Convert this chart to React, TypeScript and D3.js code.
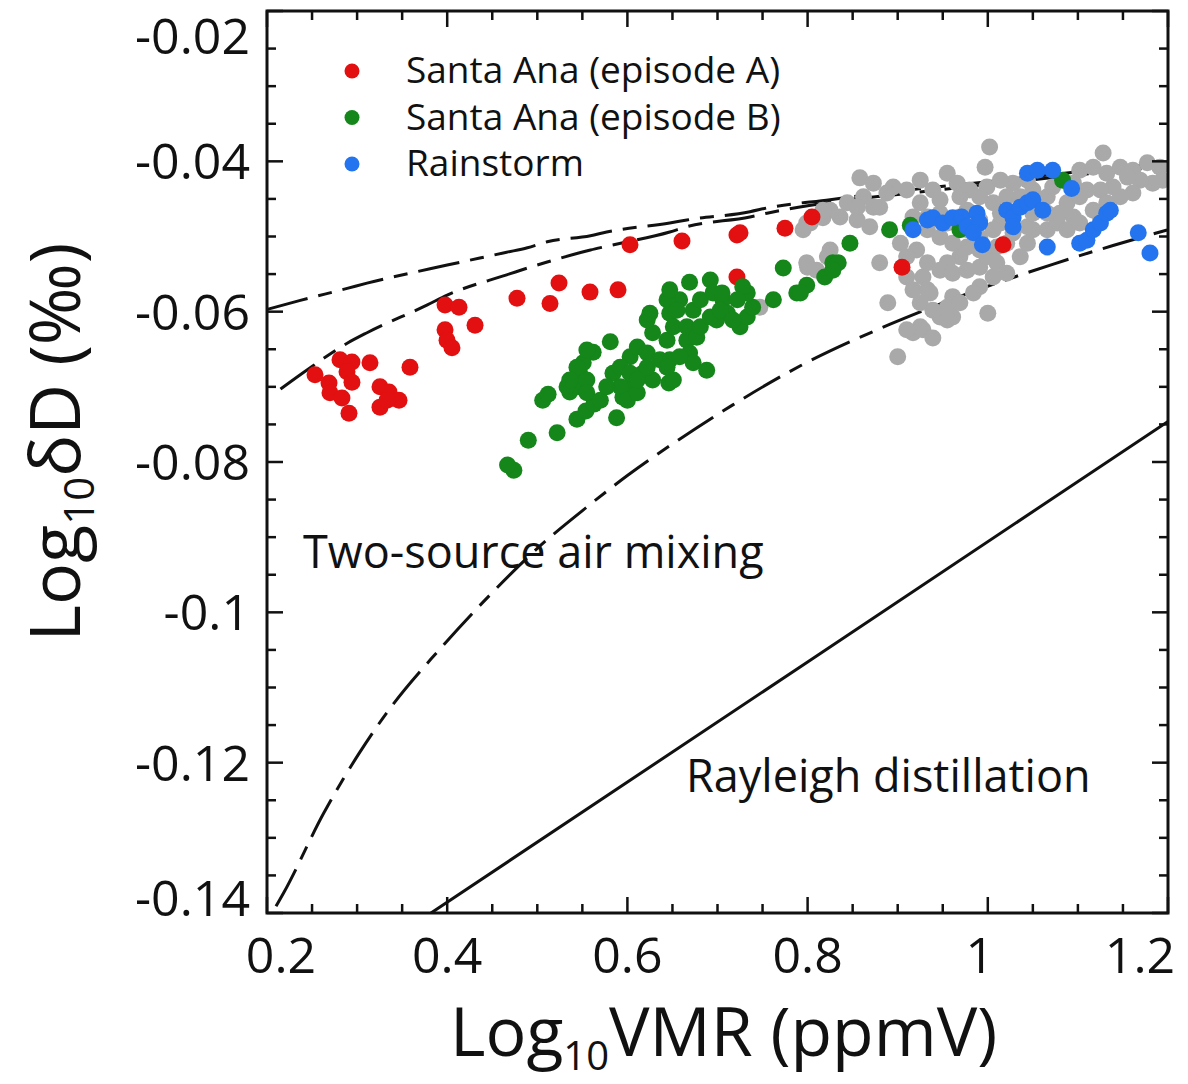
import React from "react";
import * as d3 from "d3";

// ---------- data ----------
const xDomain: [number, number] = [0.2, 1.2];
const yDomain: [number, number] = [-0.14, -0.02];

const xTickLabels = ["0.2", "0.4", "0.6", "0.8", "1", "1.2"];
const xTickValues = [0.2, 0.4, 0.6, 0.8, 1.0, 1.2];
const yTickLabels = ["-0.02", "-0.04", "-0.06", "-0.08", "-0.1", "-0.12", "-0.14"];
const yTickValues = [-0.02, -0.04, -0.06, -0.08, -0.1, -0.12, -0.14];

const legendLabels = ["Santa Ana (episode A)", "Santa Ana (episode B)", "Rainstorm"];

const mixingUpper: [number, number][] = [
  [0.2, -0.0597], [0.237, -0.0585], [0.289, -0.0569], [0.311, -0.0562], [0.381, -0.0543],
  [0.4, -0.0538], [0.466, -0.0521], [0.489, -0.0515], [0.511, -0.0507], [0.559, -0.0499],
  [0.577, -0.0494], [0.647, -0.0482], [0.666, -0.0478], [0.736, -0.0467], [0.755, -0.0462],
  [0.825, -0.0451], [0.891, -0.0441], [1.0, -0.0427], [1.1, -0.0414], [1.2, -0.0402],
];

const mixingMiddle: [number, number][] = [
  [0.215, -0.0703], [0.244, -0.0678], [0.289, -0.0642], [0.311, -0.0628], [0.378, -0.0591],
  [0.4, -0.0578], [0.466, -0.0551], [0.489, -0.0542], [0.511, -0.0534], [0.559, -0.0518],
  [0.577, -0.0513], [0.647, -0.0494], [0.666, -0.0487], [0.736, -0.0474], [0.755, -0.0469],
  [0.822, -0.0455], [0.9, -0.0444], [1.0, -0.0431], [1.1, -0.0418], [1.2, -0.0406],
];

const mixingLower: [number, number][] = [
  [0.21, -0.1391], [0.219, -0.1372], [0.263, -0.1267], [0.302, -0.1188], [0.337, -0.1127],
  [0.391, -0.105], [0.449, -0.0975], [0.5, -0.0915], [0.556, -0.0859], [0.6, -0.0818],
  [0.65, -0.0776], [0.717, -0.0724], [0.792, -0.0672], [0.891, -0.0617], [0.973, -0.0578],
  [1.072, -0.0537], [1.139, -0.0512], [1.2, -0.0491],
];

const rayleighLine: [number, number][] = [
  [0.382, -0.14], [0.8, -0.1066], [1.2, -0.0746],
];

const redPoints: [number, number][] = [
  [0.2533, -0.0684], [0.2688, -0.0695], [0.2699, -0.0708], [0.2832, -0.0715], [0.291, -0.0735],
  [0.281, -0.0664], [0.2943, -0.0667], [0.2888, -0.068], [0.2943, -0.0694], [0.3143, -0.0668],
  [0.3254, -0.07], [0.3354, -0.0707], [0.3465, -0.0718], [0.3254, -0.0727], [0.3332, -0.0718],
  [0.3587, -0.0674], [0.3976, -0.0591], [0.4131, -0.0594], [0.3976, -0.0624], [0.3998, -0.0638],
  [0.4053, -0.0648], [0.4309, -0.0618], [0.4775, -0.0582], [0.5141, -0.0589], [0.5241, -0.0562],
  [0.5585, -0.0574], [0.5896, -0.0571], [0.6029, -0.0511], [0.6606, -0.0506], [0.7216, -0.0498],
  [0.725, -0.0495], [0.7216, -0.0554], [0.7749, -0.0489], [0.8049, -0.0474], [0.9048, -0.0541],
  [1.0169, -0.0511],
];

const greenPoints: [number, number][] = [
  [0.474, -0.0811], [0.467, -0.0804], [0.49, -0.0771], [0.522, -0.0761], [0.544, -0.0743],
  [0.554, -0.0732], [0.588, -0.0741], [0.563, -0.0723], [0.506, -0.0718], [0.512, -0.071],
  [0.547, -0.07], [0.595, -0.0714], [0.602, -0.07], [0.646, -0.0695], [0.536, -0.0707],
  [0.547, -0.0682], [0.555, -0.0691], [0.562, -0.0654], [0.581, -0.064], [0.551, -0.0668],
  [0.584, -0.0682], [0.592, -0.07], [0.6, -0.0718], [0.603, -0.066], [0.611, -0.0647],
  [0.622, -0.0655], [0.617, -0.0682], [0.628, -0.0691], [0.651, -0.0691], [0.647, -0.0664],
  [0.644, -0.0638], [0.628, -0.0628], [0.622, -0.0611], [0.625, -0.0602], [0.647, -0.0602],
  [0.658, -0.0584], [0.644, -0.0584], [0.651, -0.062], [0.666, -0.0638], [0.669, -0.0655],
  [0.673, -0.0668], [0.688, -0.0678], [0.666, -0.062], [0.673, -0.0598], [0.681, -0.0584],
  [0.647, -0.0571], [0.669, -0.0561], [0.692, -0.0558], [0.695, -0.0575], [0.706, -0.0584],
  [0.711, -0.0602], [0.699, -0.0611], [0.725, -0.062], [0.733, -0.0607], [0.739, -0.0594],
  [0.733, -0.0575], [0.728, -0.0567], [0.722, -0.0584], [0.762, -0.0584], [0.773, -0.0542],
  [0.788, -0.0575], [0.533, -0.07], [0.555, -0.0708], [0.57, -0.0718], [0.577, -0.07],
  [0.611, -0.0708], [0.622, -0.0674], [0.636, -0.0664], [0.644, -0.0674], [0.658, -0.066],
  [0.677, -0.0634], [0.681, -0.062], [0.692, -0.0607], [0.703, -0.0598], [0.717, -0.0611],
  [0.705, -0.0575], [0.799, -0.0565], [0.819, -0.0554], [0.828, -0.0535], [0.655, -0.0598],
  [0.847, -0.0509], [0.834, -0.0535], [0.828, -0.0545], [0.792, -0.0575], [0.891, -0.0491],
  [0.914, -0.0485], [1.083, -0.0425], [0.969, -0.0491], [0.555, -0.0651], [0.544, -0.0674],
  [0.536, -0.0691], [0.592, -0.0674], [0.603, -0.0682], [0.611, -0.0691],
];

const grayPoints: [number, number][] = [
  [1.002, -0.0381], [0.997, -0.0408], [1.128, -0.0389], [0.858, -0.0422], [0.873, -0.0429],
  [0.844, -0.0455], [0.862, -0.0447], [0.873, -0.0461], [0.869, -0.0487], [0.855, -0.0478],
  [0.836, -0.0474], [0.825, -0.0465], [0.817, -0.0475], [0.803, -0.0482], [0.795, -0.0491],
  [0.825, -0.0518], [0.8, -0.0541], [0.88, -0.0535], [0.889, -0.0588], [0.9, -0.066],
  [0.917, -0.0628], [0.928, -0.0624], [0.939, -0.0635], [0.925, -0.0588], [0.936, -0.0575],
  [0.928, -0.0554], [0.933, -0.0535], [0.921, -0.0518], [0.903, -0.0509], [0.895, -0.0434],
  [0.91, -0.0438], [0.925, -0.0425], [0.939, -0.0438], [0.955, -0.0416], [0.966, -0.0429],
  [0.98, -0.0438], [0.999, -0.0434], [1.014, -0.0425], [1.028, -0.0429], [1.021, -0.0447],
  [1.006, -0.0455], [0.991, -0.0447], [0.969, -0.0447], [0.947, -0.0451], [0.925, -0.0455],
  [0.917, -0.0474], [0.933, -0.0491], [0.947, -0.0501], [0.961, -0.0509], [0.969, -0.0527],
  [0.955, -0.0535], [0.947, -0.0545], [0.961, -0.0549], [0.977, -0.0545], [0.991, -0.0541],
  [0.999, -0.0527], [1.01, -0.0535], [1.006, -0.0554], [0.991, -0.0567], [0.984, -0.0575],
  [0.961, -0.058], [0.955, -0.0594], [0.961, -0.0607], [0.969, -0.0588], [1.0, -0.0602],
  [1.021, -0.0549], [1.036, -0.0527], [1.044, -0.0509], [1.05, -0.0491], [1.066, -0.0491],
  [1.077, -0.0482], [1.088, -0.0491], [1.08, -0.0469], [1.066, -0.0469], [1.088, -0.0455],
  [1.102, -0.0447], [1.11, -0.0438], [1.095, -0.0429], [1.102, -0.0412], [1.117, -0.0408],
  [1.132, -0.0416], [1.147, -0.0408], [1.161, -0.0412], [1.177, -0.0402], [1.191, -0.0408],
  [1.194, -0.0425], [1.183, -0.0429], [1.169, -0.0425], [1.155, -0.0421], [1.139, -0.0434],
  [1.125, -0.0438], [1.147, -0.0447], [1.161, -0.0442], [1.132, -0.0455], [1.117, -0.0465],
  [1.125, -0.0474], [1.095, -0.0474], [1.102, -0.0482], [1.05, -0.0438], [1.036, -0.0447],
  [1.044, -0.0425], [1.066, -0.0447], [1.072, -0.0434], [1.028, -0.0474], [1.014, -0.0482],
  [1.006, -0.0491], [1.028, -0.0495], [1.044, -0.0487], [1.05, -0.0469], [1.014, -0.0469],
  [0.933, -0.0474], [0.947, -0.0469], [0.955, -0.0482], [0.969, -0.0474], [0.977, -0.0465],
  [0.991, -0.0478], [0.977, -0.0491], [0.991, -0.0501], [0.977, -0.0514], [0.991, -0.0518],
  [1.01, -0.0514], [1.021, -0.0509], [0.91, -0.0527], [0.91, -0.0554], [0.917, -0.0571],
  [0.933, -0.0571], [0.939, -0.0598], [0.947, -0.0607], [0.955, -0.0611], [0.925, -0.062],
  [0.91, -0.0624], [0.855, -0.0461], [0.888, -0.0442], [0.88, -0.0461], [0.799, -0.0482],
  [0.817, -0.0465], [0.799, -0.0535], [0.81, -0.0545], [0.747, -0.0594], [0.822, -0.0527],
];

const bluePoints: [number, number][] = [
  [0.917, -0.0491], [0.933, -0.0478], [0.939, -0.0475], [0.95, -0.0482], [0.961, -0.0475],
  [0.971, -0.0474], [0.977, -0.0487], [0.988, -0.0469], [0.991, -0.0482], [0.984, -0.0495],
  [0.994, -0.0511], [1.021, -0.0465], [1.028, -0.0475], [1.036, -0.0461], [1.044, -0.0455],
  [1.05, -0.0451], [1.061, -0.0465], [1.028, -0.0487], [1.044, -0.0416], [1.055, -0.0412],
  [1.072, -0.0412], [1.093, -0.0436], [1.066, -0.0514], [1.102, -0.0509], [1.11, -0.0505],
  [1.117, -0.0491], [1.125, -0.0482], [1.132, -0.0469], [1.136, -0.0465], [1.167, -0.0495],
  [1.18, -0.0522],
];

// ---------- layout / style ----------
const W = 1188;
const H = 1084;
const M = { left: 267, right: 1168, top: 11, bottom: 913 };
const FONT = "'Open Sans', 'Noto Sans', sans-serif";
const RED = "#e21010";
const GREEN = "#15861a";
const BLUE = "#2374ee";
const GRAY = "#a9a9a9";
const DOT_R = 8.5;

export default function App() {
  const x = d3.scaleLinear().domain(xDomain).range([M.left, M.right]);
  const y = d3.scaleLinear().domain(yDomain).range([M.bottom, M.top]);

  const line = d3
    .line<[number, number]>()
    .x((d) => x(d[0]))
    .y((d) => y(d[1]))
    .curve(d3.curveMonotoneX);
  const straight = d3
    .line<[number, number]>()
    .x((d) => x(d[0]))
    .y((d) => y(d[1]));

  const xMinor = d3.range(0, 21).map((i) => 0.2 + i * 0.05);
  const yMinor = d3.range(0, 25).map((i) => -0.14 + i * 0.005);
  const isMajor = (i: number) => i % 4 === 0;
  const MAJ = 16;
  const MIN = 9;

  const dash = "42,11,14,11";

  const dots = (pts: [number, number][], color: string, key: string) =>
    pts.map((d, i) => (
      <circle key={key + i} cx={x(d[0])} cy={y(d[1])} r={DOT_R} fill={color} />
    ));

  const legendColors = [RED, GREEN, BLUE];

  return (
    <svg
      width={W}
      height={H}
      viewBox={`0 0 ${W} ${H}`}
      style={{ position: "absolute", left: 0, top: 0, background: "#fff" }}
      fontFamily={FONT}
    >
      <rect x={0} y={0} width={W} height={H} fill="#fff" />
      <defs>
        <clipPath id="plotclip">
          <rect x={M.left} y={M.top} width={M.right - M.left} height={M.bottom - M.top} />
        </clipPath>
      </defs>

      <g clipPath="url(#plotclip)">
        <path d={line(mixingUpper) || ""} fill="none" stroke="#111" strokeWidth={3} strokeDasharray={dash} />
        <path d={line(mixingMiddle) || ""} fill="none" stroke="#111" strokeWidth={3} strokeDasharray={dash} />
        <path d={line(mixingLower) || ""} fill="none" stroke="#111" strokeWidth={3} strokeDasharray={dash} />
        <path d={straight(rayleighLine) || ""} fill="none" stroke="#111" strokeWidth={3} />

        {dots(grayPoints, GRAY, "g")}
        {dots(redPoints, RED, "r")}
        {dots(greenPoints, GREEN, "gr")}
        {dots(bluePoints, BLUE, "b")}
      </g>

      <rect
        x={M.left}
        y={M.top}
        width={M.right - M.left}
        height={M.bottom - M.top}
        fill="none"
        stroke="#111"
        strokeWidth={3}
      />

      {xMinor.map((v, i) => {
        const len = isMajor(i) ? MAJ : MIN;
        const px = x(v);
        return (
          <g key={"xt" + i}>
            <line x1={px} x2={px} y1={M.bottom} y2={M.bottom - len} stroke="#111" strokeWidth={2.5} />
            <line x1={px} x2={px} y1={M.top} y2={M.top + len} stroke="#111" strokeWidth={2.5} />
          </g>
        );
      })}
      {yMinor.map((v, i) => {
        const len = isMajor(i) ? MAJ : MIN;
        const py = y(v);
        return (
          <g key={"yt" + i}>
            <line x1={M.left} x2={M.left + len} y1={py} y2={py} stroke="#111" strokeWidth={2.5} />
            <line x1={M.right} x2={M.right - len} y1={py} y2={py} stroke="#111" strokeWidth={2.5} />
          </g>
        );
      })}

      {xTickValues.map((v, i) => {
        let px = x(v);
        if (i === 0) px += 14;
        if (i === xTickValues.length - 1) px -= 28;
        if (v === 1) px -= 8;
        return (
          <text key={"xl" + i} x={px} y={973} fontSize={50} textAnchor="middle" fill="#111">
            {xTickLabels[i]}
          </text>
        );
      })}
      {yTickValues.map((v, i) => {
        let py = y(v) + 18;
        if (i === 0) py += 25;
        if (i === yTickValues.length - 1) py -= 15;
        return (
          <text key={"yl" + i} x={250} y={py} fontSize={50} textAnchor="end" fill="#111">
            {yTickLabels[i]}
          </text>
        );
      })}

      <text x={450} y={1056} fontSize={68} fill="#111">
        Log
        <tspan fontSize={40} dy={14}>10</tspan>
        <tspan dy={-14}>VMR (ppmV)</tspan>
      </text>
      <text transform="translate(80,442) rotate(-90)" fontSize={70} textAnchor="middle" fill="#111">
        Log
        <tspan fontSize={42} dy={14}>10</tspan>
        <tspan dy={-14}>δD (‰)</tspan>
      </text>

      <text x={303} y={568} fontSize={45} fill="#111">Two-source air mixing</text>
      <text x={686} y={792} fontSize={45} fill="#111">Rayleigh distillation</text>

      {legendLabels.map((lab, i) => {
        const cy = 71 + i * 46.5;
        return (
          <g key={"lg" + i}>
            <circle cx={352} cy={cy} r={7.5} fill={legendColors[i]} />
            <text x={406} y={cy + 12} fontSize={37} fill="#111">{lab}</text>
          </g>
        );
      })}
    </svg>
  );
}
